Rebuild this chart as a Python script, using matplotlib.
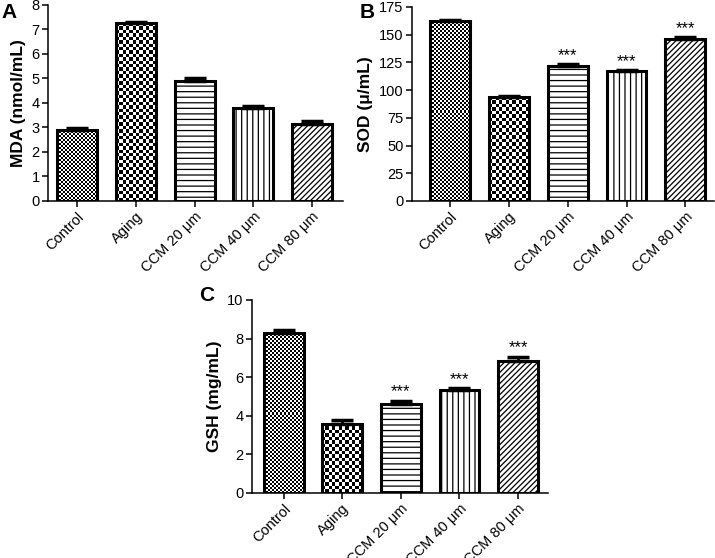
import numpy as np
import matplotlib
matplotlib.use('Agg')
import matplotlib.pyplot as plt

plt.rcParams['font.family'] = ['Liberation Sans', 'DejaVu Sans']
plt.rcParams['hatch.linewidth'] = 0.9

groups = ['Control', 'Aging', 'CCM 20 μm', 'CCM 40 μm', 'CCM 80 μm']

mda = [2.9, 7.25, 4.88, 3.8, 3.15]
mda_err = [0.07, 0.07, 0.13, 0.07, 0.1]

sod = [162.5, 93.5, 122.0, 117.0, 146.0]
sod_err = [0.8, 0.8, 1.2, 0.8, 1.5]

gsh = [8.3, 3.6, 4.62, 5.35, 6.82]
gsh_err = [0.15, 0.2, 0.16, 0.08, 0.24]

stars_sod = ['', '', '***', '***', '***']
stars_gsh = ['', '', '***', '***', '***']

hatches = [None, None, '---', '|||', '//////']
checker_px = [2.0, 3.4]   # checkerboard cell size (px) for Control, Aging

fig = plt.figure(figsize=(7.15, 5.58), dpi=100)


def panel(rect, vals, errs, ylim, yticks, ylabel, xlim, stars=None):
    ax = fig.add_axes(rect)
    x = np.arange(len(vals))
    w = 0.68
    bars = ax.bar(x, vals, w, color='white', edgecolor='black',
                  linewidth=2.2, zorder=3)
    for b, h in zip(bars, hatches):
        if h:
            b.set_hatch(h)
    ax.set_xlim(*xlim)
    ax.set_ylim(*ylim)

    # checkerboard fill for the first two bars
    for i in range(2):
        b = bars[i]
        x0, x1 = b.get_x(), b.get_x() + b.get_width()
        y0, y1 = 0, b.get_height()
        p0 = ax.transData.transform((x0, y0))
        p1 = ax.transData.transform((x1, y1))
        nx = max(1, int(round((p1[0] - p0[0]) / checker_px[i])))
        ny = max(1, int(round((p1[1] - p0[1]) / checker_px[i])))
        board = np.add.outer(np.arange(ny), np.arange(nx)) % 2
        im = ax.imshow(board, cmap='gray', interpolation='nearest',
                       extent=(x0, x1, y0, y1), aspect='auto', zorder=2.5,
                       vmin=0, vmax=1)
        im.set_clip_path(b)
        b.set_facecolor('none')
    ax.set_xlim(*xlim)
    ax.set_ylim(*ylim)

    ax.errorbar(x, vals, yerr=[np.zeros(len(vals)), errs], fmt='none',
                ecolor='black', elinewidth=2, capsize=8, capthick=2.5,
                zorder=4)
    if stars:
        for xi, v, e, s in zip(x, vals, errs, stars):
            if s:
                ax.annotate(s, (xi, v + e), xytext=(0, 1),
                            textcoords='offset points', ha='center',
                            va='bottom', fontsize=12)

    for s in ['top', 'right']:
        ax.spines[s].set_visible(False)
    for s in ['left', 'bottom']:
        ax.spines[s].set_linewidth(1.1)
    ax.set_yticks(yticks)
    ax.set_xticks(x)
    ax.set_xticklabels(groups, rotation=45, ha='right',
                       rotation_mode='anchor', fontsize=10.5)
    ax.tick_params(axis='both', labelsize=10.5, length=4, width=1.1,
                   direction='out', pad=2)
    ax.set_ylabel(ylabel, fontsize=12.5, fontweight='bold', labelpad=4)
    return ax


panel([0.0671, 0.6398, 0.4126, 0.3513], mda, mda_err, (0, 8),
      np.arange(0, 9, 1), 'MDA (nmol/mL)', (-0.5, 4.53))
panel([0.5762, 0.6398, 0.4225, 0.3477], sod, sod_err, (0, 175),
      np.arange(0, 176, 25), 'SOD (μ/mL)', (-0.65, 4.49), stars_sod)
panel([0.3524, 0.1165, 0.414, 0.3459], gsh, gsh_err, (0, 10),
      np.arange(0, 11, 2), 'GSH (mg/mL)', (-0.54, 4.51), stars_gsh)

fig.text(0.002, 0.995, 'A', fontsize=15, fontweight='bold', va='top')
fig.text(0.503, 0.995, 'B', fontsize=15, fontweight='bold', va='top')
fig.text(0.279, 0.488, 'C', fontsize=15, fontweight='bold', va='top')

fig.savefig('out.png', dpi=100)
